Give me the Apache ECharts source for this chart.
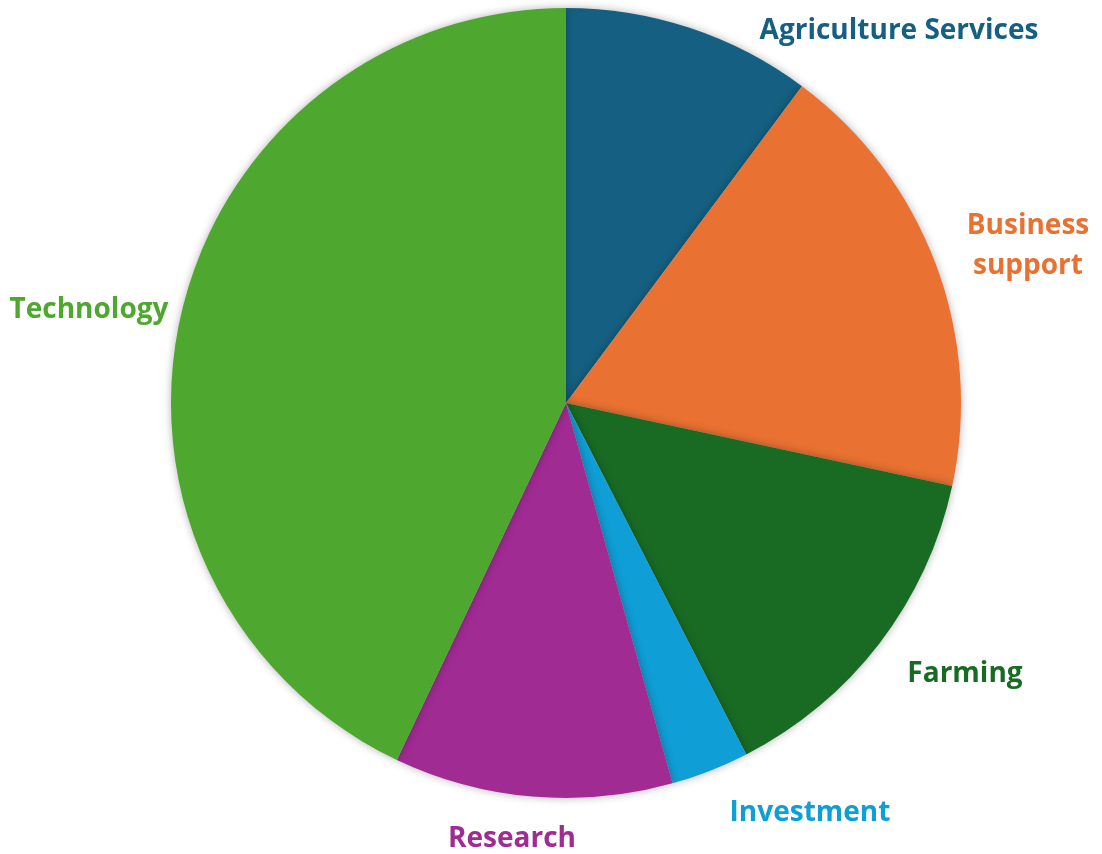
<!DOCTYPE html>
<html>
<head>
<meta charset="utf-8">
<script src="https://cdn.jsdelivr.net/npm/echarts@6/dist/echarts.min.js"></script>
<style>html,body{margin:0;padding:0;background:#fff;}#chart{width:1102px;height:854px;}</style>
</head>
<body>
<div id="chart"></div>
<script>
const categories = ["Agriculture Services", "Business\nsupport", "Farming", "Investment", "Research", "Technology"];
const values = [10.2, 18.2, 14.1, 3.2, 11.4, 43.0];
const colors = ["#156082", "#E97132", "#196B24", "#0F9ED5", "#A02B93", "#4EA72E"];
const labelSpots = [[899, 31], [1028, 246], [965, 674], [810, 813], [512, 839], [89, 310]];

const chart = echarts.init(document.getElementById('chart'));
chart.setOption({
  animation: false,
  series: [{
    type: 'pie',
    center: [566, 403],
    radius: 395,
    startAngle: 90,
    clockwise: true,
    data: categories.map((c, i) => ({
      name: c, value: values[i],
      itemStyle: { color: colors[i] },
      label: { color: colors[i] }
    })),
    itemStyle: { shadowBlur: 8, shadowColor: 'rgba(0,0,0,0.3)' },
    label: {
      show: true,
      position: 'outside',
      formatter: '{b}',
      fontFamily: 'Open Sans',
      fontWeight: 'bold',
      fontSize: 28,
      lineHeight: 40,
      align: 'center',
      overflow: 'none'
    },
    labelLine: { show: false },
    labelLayout: function (p) {
      const s = labelSpots[p.dataIndex];
      return { x: s[0], y: s[1], align: 'center', verticalAlign: 'middle', hideOverlap: false };
    }
  }]
});
</script>
</body>
</html>
